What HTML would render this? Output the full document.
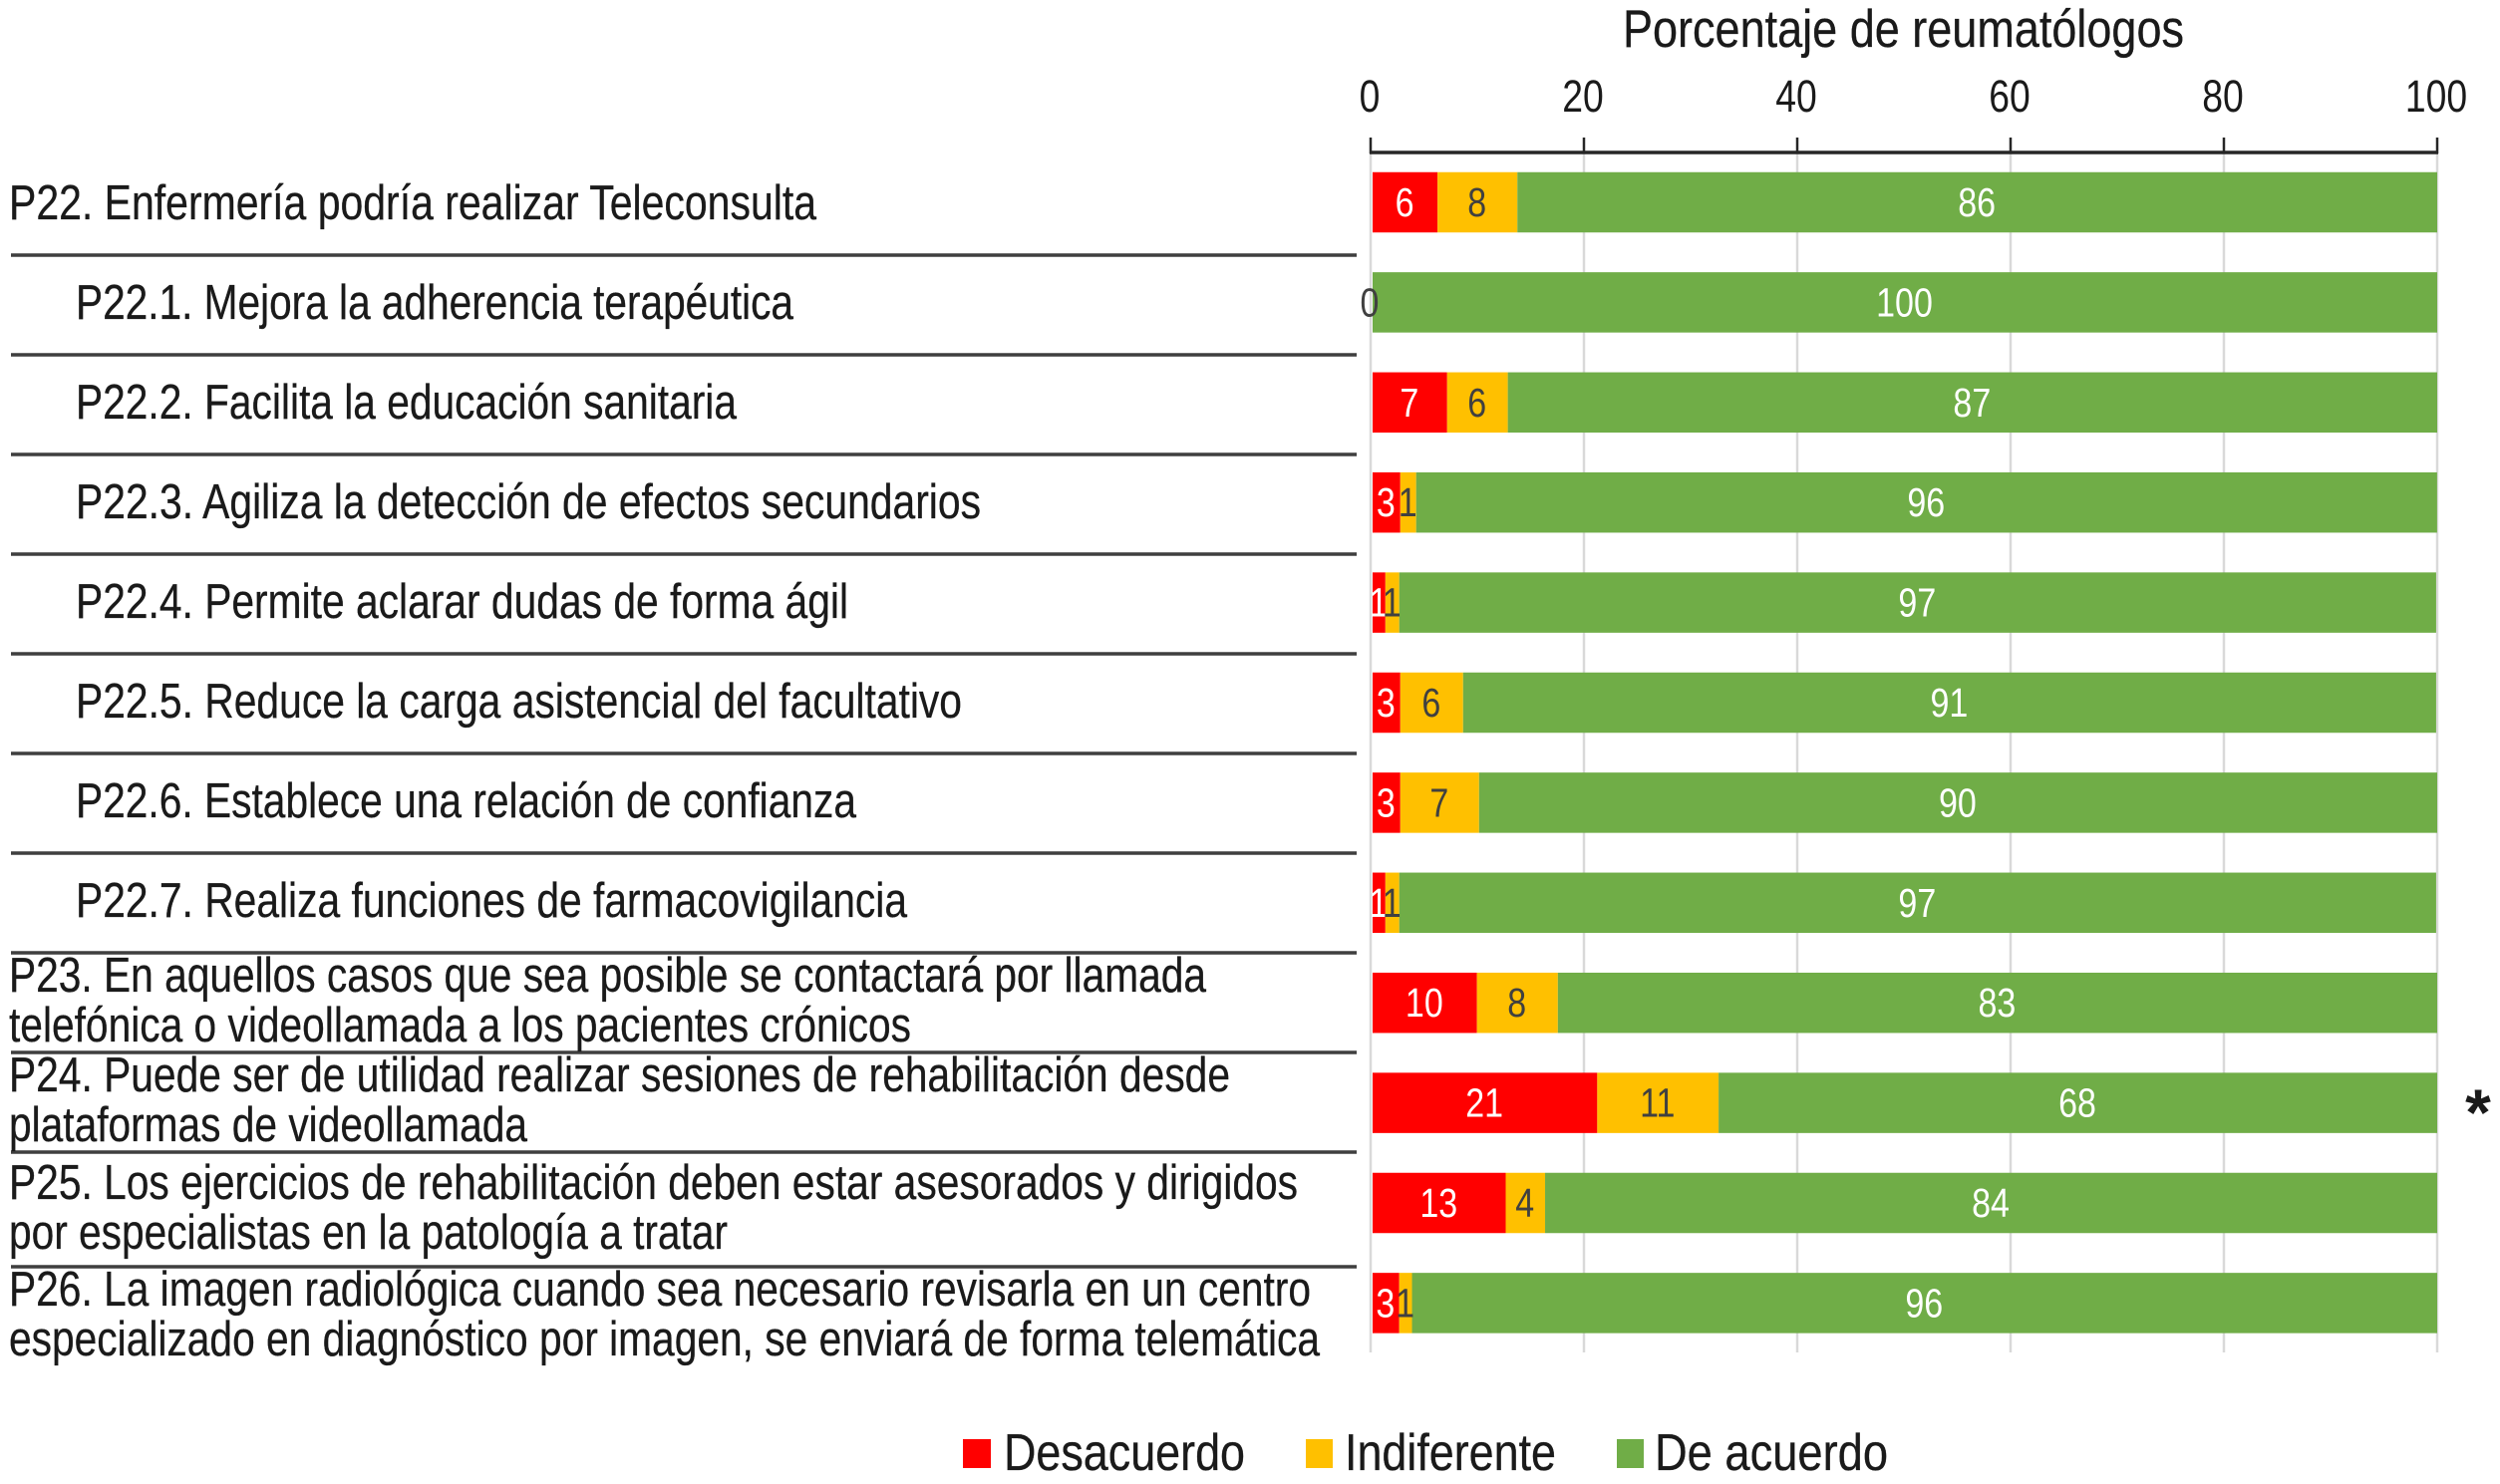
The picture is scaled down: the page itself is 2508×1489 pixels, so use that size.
<!DOCTYPE html>
<html lang="es">
<head>
<meta charset="utf-8">
<title>Porcentaje de reumatólogos</title>
<style>
html,body{margin:0;padding:0;background:#fff;width:2508px;height:1489px;overflow:hidden}
svg{display:block;font-family:"Liberation Sans",Arial,sans-serif}
.lab{font-size:49px;fill:#1a1a1a;stroke:#1a1a1a;stroke-width:.3}
.rule{stroke:#3f3f3f;stroke-width:3.5}
</style>
</head>
<body>
<svg id="chart" xmlns="http://www.w3.org/2000/svg" width="2508" height="1489" viewBox="0 0 2508 1489">
  <rect x="0" y="0" width="2508" height="1489" fill="#fff"/>

  <text x="1628" y="47" font-size="53" fill="#1a1a1a" stroke="#1a1a1a" stroke-width=".3" textLength="563" lengthAdjust="spacingAndGlyphs">Porcentaje de reumatólogos</text>

  <g id="grid"></g>
  <g id="axis"></g>
  <g id="bars"></g>

  <g>
    <line class="rule" x1="11" x2="1361" y1="256" y2="256"/>
    <line class="rule" x1="11" x2="1361" y1="356" y2="356"/>
    <line class="rule" x1="11" x2="1361" y1="456" y2="456"/>
    <line class="rule" x1="11" x2="1361" y1="556" y2="556"/>
    <line class="rule" x1="11" x2="1361" y1="656" y2="656"/>
    <line class="rule" x1="11" x2="1361" y1="756" y2="756"/>
    <line class="rule" x1="11" x2="1361" y1="856" y2="856"/>
    <line class="rule" x1="11" x2="1361" y1="956" y2="956"/>
    <line class="rule" x1="11" x2="1361" y1="1056" y2="1056"/>
    <line class="rule" x1="11" x2="1361" y1="1156" y2="1156"/>
    <line class="rule" x1="11" x2="1361" y1="1271" y2="1271"/>
  </g>

  <g>
    <text class="lab" x="9" y="220" textLength="810" lengthAdjust="spacingAndGlyphs">P22. Enfermería podría realizar Teleconsulta</text>
    <text class="lab" x="76" y="320" textLength="720" lengthAdjust="spacingAndGlyphs">P22.1. Mejora la adherencia terapéutica</text>
    <text class="lab" x="76" y="420" textLength="663" lengthAdjust="spacingAndGlyphs">P22.2. Facilita la educación sanitaria</text>
    <text class="lab" x="76" y="520" textLength="908" lengthAdjust="spacingAndGlyphs">P22.3. Agiliza la detección de efectos secundarios</text>
    <text class="lab" x="76" y="620" textLength="775" lengthAdjust="spacingAndGlyphs">P22.4. Permite aclarar dudas de forma ágil</text>
    <text class="lab" x="76" y="720" textLength="889" lengthAdjust="spacingAndGlyphs">P22.5. Reduce la carga asistencial del facultativo</text>
    <text class="lab" x="76" y="820" textLength="783" lengthAdjust="spacingAndGlyphs">P22.6. Establece una relación de confianza</text>
    <text class="lab" x="76" y="920" textLength="834" lengthAdjust="spacingAndGlyphs">P22.7. Realiza funciones de farmacovigilancia</text>
    <text class="lab" x="9" y="995" textLength="1201" lengthAdjust="spacingAndGlyphs">P23. En aquellos casos que sea posible se contactará por llamada</text>
    <text class="lab" x="9" y="1045" textLength="905" lengthAdjust="spacingAndGlyphs">telefónica o videollamada a los pacientes crónicos</text>
    <text class="lab" x="9" y="1095" textLength="1225" lengthAdjust="spacingAndGlyphs">P24. Puede ser de utilidad realizar sesiones de rehabilitación desde</text>
    <text class="lab" x="9" y="1145" textLength="520" lengthAdjust="spacingAndGlyphs">plataformas de videollamada</text>
    <text class="lab" x="9" y="1203" textLength="1293" lengthAdjust="spacingAndGlyphs">P25. Los ejercicios de rehabilitación deben estar asesorados y dirigidos</text>
    <text class="lab" x="9" y="1253" textLength="721" lengthAdjust="spacingAndGlyphs">por especialistas en la patología a tratar</text>
    <text class="lab" x="9" y="1310" textLength="1306" lengthAdjust="spacingAndGlyphs">P26. La imagen radiológica cuando sea necesario revisarla en un centro</text>
    <text class="lab" x="9" y="1360" textLength="1315" lengthAdjust="spacingAndGlyphs">especializado en diagnóstico por imagen, se enviará de forma telemática</text>
  </g>

  <text x="2486" y="1139" font-size="66" font-weight="bold" text-anchor="middle" fill="#1a1a1a">*</text>

  <g>
    <rect x="966" y="1444" width="28" height="29" fill="#FF0000"/>
    <text x="1007" y="1475" font-size="52" fill="#1a1a1a" stroke="#1a1a1a" stroke-width=".3" textLength="242" lengthAdjust="spacingAndGlyphs">Desacuerdo</text>
    <rect x="1310" y="1444" width="27" height="29" fill="#FFC000"/>
    <text x="1349" y="1475" font-size="52" fill="#1a1a1a" stroke="#1a1a1a" stroke-width=".3" textLength="212" lengthAdjust="spacingAndGlyphs">Indiferente</text>
    <rect x="1622" y="1444" width="27" height="29" fill="#70AD47"/>
    <text x="1660" y="1475" font-size="52" fill="#1a1a1a" stroke="#1a1a1a" stroke-width=".3" textLength="234" lengthAdjust="spacingAndGlyphs">De acuerdo</text>
  </g>
</svg>

<script>
const categories = ["P22","P22.1","P22.2","P22.3","P22.4","P22.5","P22.6","P22.7","P23","P24","P25","P26"];
const desacuerdo = [6.1,0,7.0,2.6,1.2,2.6,2.6,1.2,9.8,21.1,12.5,2.5];
const indiferente = [7.5,0,5.7,1.49,1.3,5.9,7.4,1.3,7.6,11.4,3.7,1.2];
const deAcuerdo = [86.4,100,87.3,95.9,97.4,91.4,90.0,97.4,82.6,67.5,83.8,96.3];
const tickValues = [0,20,40,60,80,100];

const NS = "http://www.w3.org/2000/svg";
const xBar = v => 1377 + 10.68 * v;
const xAxis = v => 1375 + 10.7 * v;
const yBand = i => 203 + 100.4 * i;
const BAR_H = 60.5;

function svgEl(tag, parent, attrs) {
  const el = document.createElementNS(NS, tag);
  for (const k in attrs) el.setAttribute(k, attrs[k]);
  parent.appendChild(el);
  return el;
}
function numText(parent, cx, baseline, size, fill, str) {
  const t = svgEl("text", parent, {
    transform: "translate(" + cx + " " + baseline + ") scale(0.83 1)",
    "font-size": size, fill: fill, "text-anchor": "middle"
  });
  t.textContent = str;
  return t;
}

const grid = document.getElementById("grid");
const axis = document.getElementById("axis");
const bars = document.getElementById("bars");

tickValues.forEach(function (v) {
  const g = svgEl("line", grid, {x1: xAxis(v), x2: xAxis(v), y1: 153, y2: 1357, stroke: "#d9d9d9", "stroke-width": 2.5});
  
  
  const tk = svgEl("line", axis, {x1: xAxis(v), x2: xAxis(v), y1: 138, y2: 154, stroke: "#262626", "stroke-width": 2.5});
  
  
  const lb = numText(axis, xAxis(v) - 1, 112, 45, "#1a1a1a", String(v));
  
  
});
const axisLine = svgEl("line", axis, {x1: xAxis(0) - 1, x2: xAxis(100) + 1, y1: 153, y2: 153, stroke: "#262626", "stroke-width": 3.5});



const seriesList = [
  {values: desacuerdo, color: "#FF0000", text: "#ffffff"},
  {values: indiferente, color: "#FFC000", text: "#404040"},
  {values: deAcuerdo, color: "#70AD47", text: "#ffffff"}
];

categories.forEach(function (cat, i) {
  let cum = 0;
  const cy = yBand(i);
  seriesList.forEach(function (s) {
    const v = s.values[i];
    const x0 = xBar(cum), x1 = xBar(cum + v);
    cum += v;
    if (v > 0) {
      const r = svgEl("rect", bars, {x: x0, y: cy - BAR_H / 2, width: x1 - x0, height: BAR_H, fill: s.color});
      
      
    }
  });
});

categories.forEach(function (cat, i) {
  let cum = 0;
  const cy = yBand(i);
  seriesList.forEach(function (s, si) {
    const v = s.values[i];
    const x0 = xBar(cum), x1 = xBar(cum + v);
    cum += v;
    if (v > 0) {
      const t = numText(bars, (x0 + x1) / 2 - 0.5, cy + 14, 41, s.text, String(Math.round(v)));
      
      
    } else if (si === 0) {
      const z = numText(bars, x0 - 3, cy + 14, 41, "#404040", "0");
      
      
    }
  });
});
</script>
</body>
</html>
